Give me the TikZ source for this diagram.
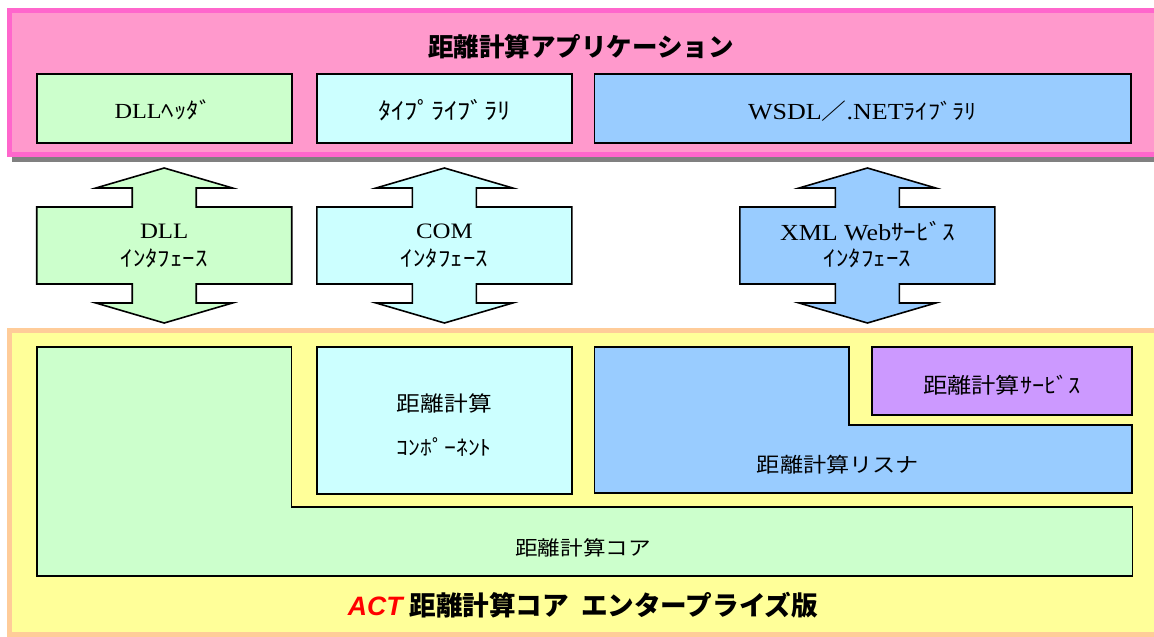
\documentclass[tikz,border=0pt]{standalone}
\usepackage{fontspec}
\setmainfont[FakeStretch=1.13]{Liberation Serif}
\newfontfamily\jp[FakeStretch=1.13]{Noto Sans CJK JP}
\newfontfamily\jpt{Noto Sans CJK JP}
\newfontfamily\lsans{Liberation Sans}
\definecolor{pinkfill}{HTML}{FF99CC}
\definecolor{pinkline}{HTML}{FF66CC}
\definecolor{yelfill}{HTML}{FFFF99}
\definecolor{yelline}{HTML}{FFCC99}
\definecolor{grn}{HTML}{CCFFCC}
\definecolor{cyn}{HTML}{CCFFFF}
\definecolor{blu}{HTML}{99CCFF}
\definecolor{pur}{HTML}{CC99FF}
\definecolor{shadowgray}{HTML}{808080}
\newcommand\biarrow[5]{%
  % #1 center x, #2 body half, #3 wing half, #4 shaft half, #5 fill
  \draw[arrowbox, fill=#5] (#1,168) -- ({#1-#3},188) -- ({#1-#4},188) -- ({#1-#4},207)
    -- ({#1-#2},207) -- ({#1-#2},284) -- ({#1-#4},284) -- ({#1-#4},303)
    -- ({#1-#3},303) -- (#1,323) -- ({#1+#3},303) -- ({#1+#4},303)
    -- ({#1+#4},284) -- ({#1+#2},284) -- ({#1+#2},207) -- ({#1+#4},207)
    -- ({#1+#4},188) -- ({#1+#3},188) -- cycle;}
\begin{document}
\begin{tikzpicture}[x=1pt,y=-1pt,
  box/.style={draw=black, line width=1.6pt, inner sep=0pt},
  arrowbox/.style={draw=black, line width=1.6pt, line join=miter},
  jtxt/.style={font=\jp\fontsize{20}{22}\selectfont, inner sep=0pt},
  atxt/.style={font=\jp\fontsize{22}{24}\selectfont, inner sep=0pt},
  ltxt/.style={font=\fontsize{22}{24}\selectfont, inner sep=0pt},
  title/.style={font=\jpt\bfseries\fontsize{25.5}{28}\selectfont, inner sep=0pt}]
\clip (0,0) rectangle (1154,637);
\fill[white] (0,0) rectangle (1154,637);
% application layer
\fill[shadowgray] (12,150) rectangle (1170,162);
\draw[pinkline, fill=pinkfill, line width=5pt] (9.2,10.5) rectangle (1170,154.5);
\node[title] (apptitle) at (581,47) {距離計算アプリケーション};
\node[box, fill=grn, minimum width=255pt, minimum height=69pt] (dllhdr) at (164.2,108.5) {};
\node[inner sep=0pt] (dllhdrtxt) at (163,110) {{\fontsize{21.5}{24}\selectfont DLL}{\jp\fontsize{22}{22}\selectfont ﾍｯﾀﾞ}};
\node[box, fill=cyn, minimum width=255pt, minimum height=69pt] (typelib) at (444.4,108.5) {};
\node[atxt, font=\jp\fontsize{23.5}{25}\selectfont] (typelibtxt) at (444.4,110) {ﾀｲﾌﾟﾗｲﾌﾞﾗﾘ};
\node[box, fill=blu, minimum width=536.4pt, minimum height=69pt] (wsdl) at (862.8,108.5) {};
\node[inner sep=0pt] (wsdltxt) at (862.4,111) {{\fontsize{23}{24}\selectfont WSDL}{\jp\fontsize{22}{23}\selectfont ／}{\fontsize{23}{24}\selectfont .NET}{\jp\fontsize{21.5}{22}\selectfont ﾗｲﾌﾞﾗﾘ}};
% interface arrows
\biarrow{164.2}{127.5}{68.3}{32}{grn}
\biarrow{444.4}{127.5}{68.3}{32}{cyn}
\biarrow{867.4}{127.5}{68.3}{32}{blu}
\node[ltxt] (dllif1) at (164.2,231) {DLL};
\node[atxt] (dllif2) at (164.2,258) {ｲﾝﾀﾌｪｰｽ};
\node[ltxt] (comif1) at (444.4,231) {COM};
\node[atxt] (comif2) at (444.4,258) {ｲﾝﾀﾌｪｰｽ};
\node[inner sep=0pt] (xmlif1) at (867.4,231) {{\fontsize{23}{24}\selectfont XML Web}{\jp\fontsize{22.5}{23}\selectfont ｻｰﾋﾞｽ}};
\node[atxt] (xmlif2) at (867.4,258) {ｲﾝﾀﾌｪｰｽ};
% core layer
\draw[yelline, fill=yelfill, line width=5pt] (9.2,330.5) rectangle (1170,634.5);
\draw[box, fill=grn] (37,347) -- (291.6,347) -- (291.6,507) -- (1132.5,507) -- (1132.5,576) -- (37,576) -- cycle;
\node[jtxt] (coretxt) at (583,548) {距離計算コア};
\node[box, fill=cyn, minimum width=255pt, minimum height=147pt] (comp) at (444.4,420.5) {};
\node[jtxt, font=\jp\fontsize{21}{22}\selectfont] (comptxt1) at (444.4,403) {距離計算};
\node[jtxt, font=\jp\fontsize{21}{22}\selectfont] (comptxt2) at (444.4,447) {ｺﾝﾎﾟｰﾈﾝﾄ};
\draw[box, fill=blu] (594.6,347) -- (849,347) -- (849,425) -- (1132,425) -- (1132,493) -- (594.6,493) -- cycle;
\node[jtxt, font=\jp\fontsize{20.5}{22}\selectfont] (listtxt) at (838,465) {距離計算リスナ};
\node[box, fill=pur, minimum width=260.3pt, minimum height=68pt] (svc) at (1001.9,381) {};
\node[jtxt, font=\jp\fontsize{21.5}{22}\selectfont] (svctxt) at (1002,385) {距離計算ｻｰﾋﾞｽ};
\node[title, font=\jpt\bfseries\fontsize{26.6}{28}\selectfont] (acttitle) at (583,605) {{\lsans\color{red}\bfseries\itshape ACT}\hspace{7pt}距離計算コア\hspace{12pt}エンタープライズ版};
\end{tikzpicture}
\end{document}
